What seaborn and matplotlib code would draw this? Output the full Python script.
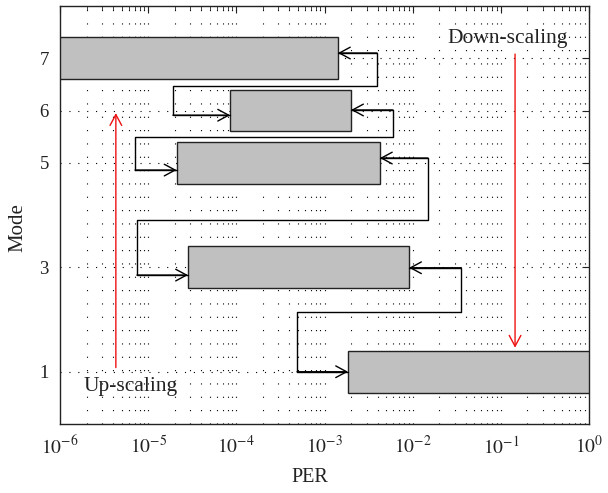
import numpy as np
import pandas as pd
import matplotlib
matplotlib.use("Agg")
import matplotlib.pyplot as plt
import seaborn as sns
from matplotlib.ticker import LogLocator, NullFormatter

# ---- data ----
modes = [7, 6, 5, 3, 1]
per_low = [1e-6, 8.5e-5, 2.1e-5, 2.83e-5, 1.85e-3]
per_high = [1.42e-3, 2.0e-3, 4.25e-3, 9.1e-3, 1.0]

# switching paths between modes (x = PER, y = mode level)
path_7_6_x = [1.42e-3, 3.94e-3, 3.94e-3, 1.91e-5, 1.91e-5, 8.5e-5]
path_7_6_y = [7.10, 7.10, 6.47, 6.47, 5.91, 5.91]
path_6_5_x = [2.0e-3, 5.98e-3, 5.98e-3, 7.1e-6, 7.1e-6, 2.1e-5]
path_6_5_y = [6.01, 6.01, 5.49, 5.49, 4.86, 4.86]
path_5_3_x = [4.25e-3, 1.49e-2, 1.49e-2, 7.46e-6, 7.46e-6, 2.83e-5]
path_5_3_y = [5.09, 5.09, 3.91, 3.91, 2.85, 2.85]
path_3_1_x = [9.1e-3, 3.53e-2, 3.53e-2, 4.88e-4, 4.88e-4, 1.85e-3]
path_3_1_y = [2.99, 2.99, 2.15, 2.15, 1.0, 1.0]

up_x, up_y0, up_y1 = 4.3e-6, 1.08, 5.95
down_x, down_y0, down_y1 = 0.145, 7.08, 1.46

ytick_vals = [1, 3, 5, 6, 7]
xtick_vals = [1e-6, 1e-5, 1e-4, 1e-3, 1e-2, 1e-1, 1e0]
xtick_labels = [r"$10^{-6}$", r"$10^{-5}$", r"$10^{-4}$", r"$10^{-3}$",
                r"$10^{-2}$", r"$10^{-1}$", r"$10^{0}$"]

df = pd.DataFrame({"mode": modes, "low": per_low, "high": per_high})

# ---- style ----
sns.set_theme(style="white")
plt.rcParams["font.family"] = ["Liberation Serif", "DejaVu Serif"]
plt.rcParams["mathtext.fontset"] = "stix"

fig = plt.figure(figsize=(6.08, 4.93), dpi=100)
ax = fig.add_axes([60 / 608, 1 - 424 / 493, 529 / 608, 418 / 493])
ax.set_xscale("log")
ax.set_xlim(1e-6, 1e0)
ax.set_ylim(0, 8)

# grid: vertical dotted at major+minor decades, horizontal at mode ticks
for dec in range(-6, 0):
    for m in range(1, 10):
        v = m * 10.0 ** dec
        if v <= 1e-6:
            continue
        ax.axvline(v, color="black", lw=0.8, ls=(0, (1, 11)), zorder=0)
for yv in ytick_vals:
    ax.axhline(yv, color="black", lw=0.8, ls=(0, (1, 7)), zorder=0)

# bars
ax.barh(df["mode"], df["high"] - df["low"], left=df["low"], height=0.8,
        color="#c0c0c0", edgecolor="#222222", linewidth=1.0, zorder=3)

# switching paths
head = dict(arrowstyle="->,head_length=0.65,head_width=0.35", color="black",
            lw=1.0, shrinkA=0, shrinkB=0)
for px, py in [(path_7_6_x, path_7_6_y), (path_6_5_x, path_6_5_y),
               (path_5_3_x, path_5_3_y), (path_3_1_x, path_3_1_y)]:
    sns.lineplot(x=px, y=py, sort=False, ax=ax, color="black", lw=1.0,
                 zorder=4, estimator=None)
    ax.annotate("", xy=(px[0], py[0]), xytext=(px[1], py[1]),
                arrowprops=head, zorder=5)
    ax.annotate("", xy=(px[-1], py[-1]), xytext=(px[-2], py[-2]),
                arrowprops=head, zorder=5)

red = dict(arrowstyle="->,head_length=0.65,head_width=0.35", color="#ee1111",
           lw=1.0, shrinkA=0, shrinkB=0)
ax.annotate("", xy=(up_x, up_y1), xytext=(up_x, up_y0), arrowprops=red, zorder=5)
ax.annotate("", xy=(down_x, down_y1), xytext=(down_x, down_y0), arrowprops=red, zorder=5)

ax.text(1.87e-6, 0.72, "Up-scaling", fontsize=15.5, va="center", ha="left",
        color="#222222", zorder=6)
ax.text(2.5e-2, 7.37, "Down-scaling", fontsize=15.5, va="center", ha="left",
        color="#222222", zorder=6)

# ticks
ax.set_xticks(xtick_vals)
ax.set_xticklabels(xtick_labels, fontsize=14)
ax.xaxis.set_minor_locator(LogLocator(base=10, subs=np.arange(2, 10)))
ax.xaxis.set_minor_formatter(NullFormatter())
ax.set_yticks(ytick_vals)
ax.set_yticklabels([str(v) for v in ytick_vals], fontsize=13.5)
ax.tick_params(which="both", direction="in", top=True, right=True,
               colors="#222222", labelcolor="#222222")
ax.tick_params(which="major", length=5, width=0.8, pad=8)
ax.tick_params(which="minor", length=3, width=0.6)
for s in ax.spines.values():
    s.set_color("#222222")
    s.set_linewidth(1.0)

ax.set_xlabel("PER", fontsize=14.5, color="#222222")
ax.set_ylabel("Mode", fontsize=15, color="#222222")
ax.xaxis.set_label_coords(0.473, -0.105)
ax.yaxis.set_label_coords(-0.062, 0.471)

fig.savefig("out.png", dpi=100)
